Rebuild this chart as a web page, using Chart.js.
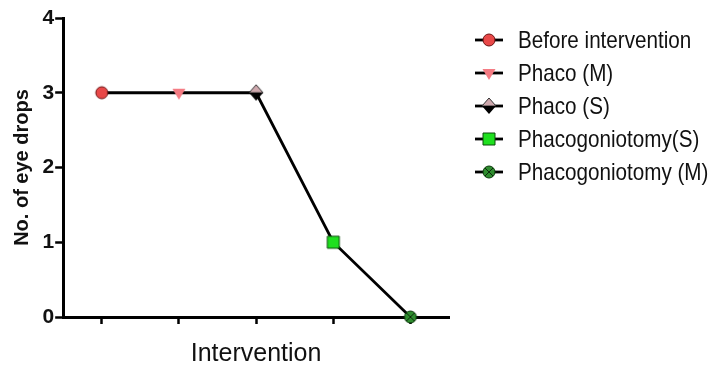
<!DOCTYPE html>
<html>
<head>
<meta charset="utf-8">
<script src="https://cdn.jsdelivr.net/npm/chart.js@4"></script>
<style>
  html, body { margin: 0; padding: 0; background: #fff; }
</style>
</head>
<body>
<canvas id="eyeChart" width="717" height="375"></canvas>
<script>
// * data
const categories = [
  "Before intervention",
  "Phaco (M)",
  "Phaco (S)",
  "Phacogoniotomy(S)",
  "Phacogoniotomy (M)",
];
const eyeDrops = [3, 3, 3, 1, 0];
const yTicks = [0, 1, 2, 3, 4];

const mainFont = "'Liberation Sans', Arial, sans-serif";

// ? draw one marker, same look as the prism style markers
function drawMarker(ctx, i, x, y) {
  ctx.save();
  ctx.lineWidth = 1;
  ctx.beginPath();
  if (i === 0) {
    ctx.arc(x, y, 6, 0, Math.PI * 2);
    ctx.fillStyle = "#e84848";
    ctx.strokeStyle = "#6a1010";
    ctx.fill();
    ctx.stroke();
  } else if (i === 1) {
    ctx.moveTo(x - 6.5, y - 4);
    ctx.lineTo(x + 6.5, y - 4);
    ctx.lineTo(x, y + 7);
    ctx.closePath();
    ctx.fillStyle = "#f47c84";
    ctx.fill();
  } else if (i === 2) {
    ctx.moveTo(x - 7, y);
    ctx.lineTo(x, y - 8);
    ctx.lineTo(x + 7, y);
    ctx.closePath();
    ctx.fillStyle = "#cfa9ae";
    ctx.strokeStyle = "#333";
    ctx.fill();
    ctx.stroke();
    ctx.beginPath();
    ctx.moveTo(x - 7, y);
    ctx.lineTo(x + 7, y);
    ctx.lineTo(x, y + 8);
    ctx.closePath();
    ctx.fillStyle = "#000";
    ctx.fill();
  } else if (i === 3) {
    ctx.rect(x - 6, y - 6, 12, 12);
    ctx.fillStyle = "#1fe01f";
    ctx.strokeStyle = "#0b4a0b";
    ctx.fill();
    ctx.stroke();
  } else {
    ctx.arc(x, y, 6, 0, Math.PI * 2);
    ctx.fillStyle = "#2e8c2e";
    ctx.strokeStyle = "#0b3a0b";
    ctx.fill();
    ctx.stroke();
    ctx.beginPath();
    ctx.moveTo(x - 4, y - 4);
    ctx.lineTo(x + 4, y + 4);
    ctx.moveTo(x + 4, y - 4);
    ctx.lineTo(x - 4, y + 4);
    ctx.strokeStyle = "#0b2a0b";
    ctx.stroke();
  }
  ctx.restore();
}

function markerCanvas(i) {
  const c = document.createElement("canvas");
  c.width = 18;
  c.height = 18;
  drawMarker(c.getContext("2d"), i, 9, 9);
  return c;
}

function legendCanvas(i) {
  const c = document.createElement("canvas");
  c.width = 30;
  c.height = 20;
  const g = c.getContext("2d");
  g.strokeStyle = "#000";
  g.lineWidth = 2.8;
  g.beginPath();
  g.moveTo(1, 10);
  g.lineTo(29, 10);
  g.stroke();
  drawMarker(g, i, 15, 10);
  return c;
}

const pointMarks = categories.map((c, i) => markerCanvas(i));
const legendMarks = categories.map((c, i) => legendCanvas(i));

// legend at the right side, drawn by hand (built-in one gets squeezed)
const sideLegend = {
  id: "sideLegend",
  afterDraw(chart) {
    const ctx = chart.ctx;
    const left = chart.chartArea.right + 25;
    ctx.save();
    ctx.font = "24px " + mainFont;
    ctx.fillStyle = "#111";
    ctx.textBaseline = "middle";
    categories.forEach((c, i) => {
      const y = 40 + i * 33;
      ctx.drawImage(legendMarks[i], left, y - 10);
      ctx.save();
      ctx.translate(left + 44, y + 1);
      ctx.scale(0.86, 1);
      ctx.fillText(c, 0, 0);
      ctx.restore();
    });
    ctx.restore();
  },
};

const eyeCanvas = document.getElementById("eyeChart").getContext("2d");
const eyeChart = new Chart(eyeCanvas, {
  type: "line",
  data: {
    labels: categories,
    datasets: [
      {
        data: eyeDrops,
        borderColor: "#000",
        borderWidth: 2.8,
        tension: 0,
        pointStyle: pointMarks,
        pointRadius: 7,
        pointHoverRadius: 7,
        clip: false,
      },
    ],
  },
  options: {
    responsive: false,
    animation: false,
    devicePixelRatio: 1,
    layout: { padding: { left: 6, right: 268, top: 18, bottom: 6 } },
    plugins: {
      tooltip: { enabled: false },
      legend: { display: false },
    },
    scales: {
      x: {
        offset: true,
        grid: {
          offset: false,
          drawOnChartArea: false,
          color: "#000",
          tickLength: 7,
          tickWidth: 2.5,
        },
        border: { color: "#000", width: 3 },
        ticks: { display: false },
        title: {
          display: true,
          text: "Intervention",
          color: "#111",
          font: { family: mainFont, size: 25 },
          padding: { top: 15, bottom: 0 },
        },
      },
      y: {
        min: 0,
        max: 4,
        afterBuildTicks: (s) => {
          s.ticks = yTicks.map((v) => ({ value: v }));
        },
        grid: {
          drawOnChartArea: false,
          color: "#000",
          tickLength: 8,
          tickWidth: 2.5,
        },
        border: { color: "#000", width: 3 },
        ticks: {
          color: "#111",
          padding: 1,
          font: { family: mainFont, size: 21, weight: "bold" },
        },
        title: {
          display: true,
          text: "No. of eye drops",
          color: "#111",
          font: { family: mainFont, size: 20, weight: "bold" },
          padding: { top: 4.5, bottom: 7 },
        },
      },
    },
  },
  plugins: [sideLegend],
});
</script>
</body>
</html>
